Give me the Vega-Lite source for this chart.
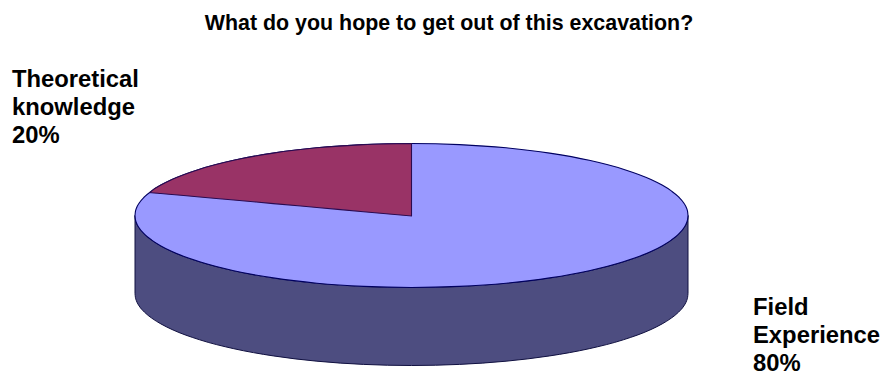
{
  "$schema": "https://vega.github.io/schema/vega-lite/v6.json",
  "width": 882,
  "height": 374,
  "padding": 0,
  "autosize": {"type": "none"},
  "background": "#ffffff",
  "view": {"stroke": null},
  "datasets": {
    "rim": [
      {"x": 135.0, "upper": 215.5, "lower": 215.5, "base": 293.5},
      {"x": 135.4, "upper": 211.7, "lower": 219.3, "base": 297.3},
      {"x": 136.5, "upper": 208.0, "lower": 223.0, "base": 301.0},
      {"x": 139.2, "upper": 203.0, "lower": 228.0, "base": 306.0},
      {"x": 144.4, "upper": 196.9, "lower": 234.1, "base": 312.1},
      {"x": 151.7, "upper": 190.9, "lower": 240.1, "base": 318.1},
      {"x": 160.9, "upper": 185.1, "lower": 245.9, "base": 323.9},
      {"x": 172.0, "upper": 179.5, "lower": 251.5, "base": 329.5},
      {"x": 199.7, "upper": 169.2, "lower": 261.8, "base": 339.8},
      {"x": 233.8, "upper": 160.3, "lower": 270.7, "base": 348.7},
      {"x": 273.3, "upper": 153.1, "lower": 277.9, "base": 355.9},
      {"x": 316.9, "upper": 147.8, "lower": 283.2, "base": 361.2},
      {"x": 363.5, "upper": 144.6, "lower": 286.4, "base": 364.4},
      {"x": 411.5, "upper": 143.5, "lower": 287.5, "base": 365.5},
      {"x": 459.5, "upper": 144.6, "lower": 286.4, "base": 364.4},
      {"x": 506.1, "upper": 147.8, "lower": 283.2, "base": 361.2},
      {"x": 549.7, "upper": 153.1, "lower": 277.9, "base": 355.9},
      {"x": 589.2, "upper": 160.3, "lower": 270.7, "base": 348.7},
      {"x": 623.3, "upper": 169.2, "lower": 261.8, "base": 339.8},
      {"x": 651.0, "upper": 179.5, "lower": 251.5, "base": 329.5},
      {"x": 662.1, "upper": 185.1, "lower": 245.9, "base": 323.9},
      {"x": 671.3, "upper": 190.9, "lower": 240.1, "base": 318.1},
      {"x": 678.6, "upper": 196.9, "lower": 234.1, "base": 312.1},
      {"x": 683.8, "upper": 203.0, "lower": 228.0, "base": 306.0},
      {"x": 686.5, "upper": 208.0, "lower": 223.0, "base": 301.0},
      {"x": 687.6, "upper": 211.7, "lower": 219.3, "base": 297.3},
      {"x": 688.0, "upper": 215.5, "lower": 215.5, "base": 293.5}
    ],
    "slice": [
      {"x": 150.0, "upper": 192.5, "lower": 192.5},
      {"x": 151.7, "upper": 190.9, "lower": 192.7},
      {"x": 160.9, "upper": 185.1, "lower": 193.5},
      {"x": 172.0, "upper": 179.5, "lower": 194.5},
      {"x": 199.7, "upper": 169.2, "lower": 197.0},
      {"x": 233.8, "upper": 160.3, "lower": 200.0},
      {"x": 273.3, "upper": 153.1, "lower": 203.6},
      {"x": 316.9, "upper": 147.8, "lower": 207.5},
      {"x": 363.5, "upper": 144.6, "lower": 211.7},
      {"x": 411.5, "upper": 143.5, "lower": 216.0}
    ],
    "captions": [
      {"x": 12, "y": 87, "label": "Theoretical\nknowledge\n20%"},
      {"x": 753, "y": 315, "label": "Field\nExperience\n80%"}
    ],
    "heading": [
      {"x": 449, "y": 30, "label": "What do you hope to get out of this excavation?"}
    ]
  },
  "encoding": {
    "x": {"field": "x", "type": "quantitative", "axis": null, "scale": {"domain": [0, 882], "nice": false, "zero": false}}
  },
  "layer": [
    {
      "data": {"name": "rim"},
      "mark": {"type": "area", "interpolate": "monotone", "fill": "#4d4d80", "stroke": "#101040", "strokeWidth": 1},
      "encoding": {
        "y": {"field": "lower", "type": "quantitative", "axis": null, "scale": {"domain": [374, 0], "nice": false, "zero": false}},
        "y2": {"field": "base"}
      }
    },
    {
      "data": {"name": "rim"},
      "mark": {"type": "area", "interpolate": "monotone", "fill": "#9999ff", "stroke": "#000060", "strokeWidth": 1.1},
      "encoding": {
        "y": {"field": "upper", "type": "quantitative", "axis": null},
        "y2": {"field": "lower"}
      }
    },
    {
      "data": {"name": "slice"},
      "mark": {"type": "area", "interpolate": "monotone", "fill": "#993366", "stroke": "#2a0a50", "strokeWidth": 1.1},
      "encoding": {
        "y": {"field": "upper", "type": "quantitative", "axis": null},
        "y2": {"field": "lower"}
      }
    },
    {
      "data": {"name": "captions"},
      "mark": {"type": "text", "align": "left", "baseline": "alphabetic", "font": "Liberation Sans", "fontWeight": "bold", "fontSize": 23.8, "lineHeight": 28, "lineBreak": "\n", "color": "#000000"},
      "encoding": {
        "y": {"field": "y", "type": "quantitative", "axis": null},
        "text": {"field": "label"}
      }
    },
    {
      "data": {"name": "heading"},
      "mark": {"type": "text", "align": "center", "baseline": "alphabetic", "font": "Liberation Sans", "fontWeight": "bold", "fontSize": 21.4, "color": "#000000"},
      "encoding": {
        "y": {"field": "y", "type": "quantitative", "axis": null},
        "text": {"field": "label"}
      }
    }
  ]
}
